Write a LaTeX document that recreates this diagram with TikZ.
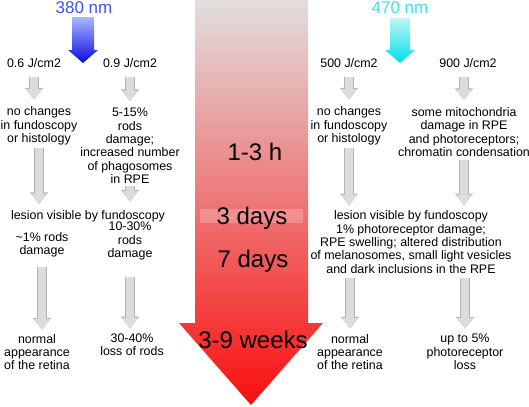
\documentclass[tikz,border=0pt]{standalone}
\usepackage{fontspec}
\setmainfont{Liberation Sans}
\usetikzlibrary{arrows.meta, calc}

\definecolor{tgrey}{RGB}{226,222,222}
\definecolor{tpink}{RGB}{240,128,128}
\definecolor{tred}{RGB}{250,15,15}
\definecolor{uvtext}{RGB}{64,80,255}
\definecolor{uvlight}{RGB}{170,184,255}
\definecolor{uvdark}{RGB}{10,10,225}
\definecolor{bltext}{RGB}{64,224,240}
\definecolor{bllight}{RGB}{190,245,245}
\definecolor{bldark}{RGB}{0,225,232}
\definecolor{stepfill}{RGB}{220,220,220}
\definecolor{stepedge}{RGB}{180,180,180}

\tikzset{
  lbl/.style={
    align=center, font=\fontsize{10.6}{11.4}\selectfont, inner sep=1pt,
  },
  period/.style={
    font=\fontsize{20.5}{24}\selectfont, inner sep=1pt,
  },
  nm/.style={
    font=\fontsize{14.5}{17}\selectfont, inner sep=0pt,
  },
  greyarr/.style={
    draw=stepfill, line width=7pt, -{Triangle[length=9pt, width=13pt]},
    preaction={draw=stepedge, line width=8.2pt,
               -{Triangle[length=10pt, width=15pt]}},
  }
}

\begin{document}
\begin{tikzpicture}[x=0.03cm, y=-0.03cm]
  \useasboundingbox (0,0) rectangle (529,406);

  % time axis
  \shade[top color=tgrey, middle color=tpink, bottom color=tred]
    (195,0) -- (308,0) -- (308,323) -- (323,323) -- (251,405)
    -- (179,323) -- (195,323) -- cycle;
  \fill[white, opacity=0.22] (200,209) rectangle (303,223);

  \node[period] (h13) at (255,152) {1-3 h};
  \node[period] (d3)  at (252,218) {3 days};
  \node[period] (d7)  at (253,261) {7 days};
  \node[period] (w39) at (253,340) {3-9 weeks};

  % wavelengths
  \node[nm, text=uvtext, anchor=base] (uv) at (84,13.5) {380 nm};
  \shade[top color=uvlight, bottom color=uvdark]
    (72,17) -- (94,17) -- (94,50) -- (98,50) -- (83,63) -- (68,50)
    -- (72,50) -- cycle;
  \node[nm, text=bltext, anchor=base] (bl) at (400,13.5) {470 nm};
  \shade[top color=bllight, bottom color=bldark]
    (390,18) -- (410,18) -- (410,50) -- (415,50) -- (400,63) -- (385,50)
    -- (390,50) -- cycle;

  % 380 nm
  \node[lbl] (e06)   at (34,63)   {0.6 J/cm2};
  \node[lbl] (e09)   at (130,63)  {0.9 J/cm2};
  \node[lbl] (nc1)   at (39,126)  {no changes\\in fundoscopy\\or histology};
  \node[lbl] (rods1) at (130,146) {5-15\%\\rods\\damage;\\increased number\\of phagosomes\\in RPE};
  \node[lbl] (les1)  at (88,216)  {lesion visible by fundoscopy};
  \node[lbl] (r1)    at (42,245)  {\textasciitilde1\% rods\\damage};
  \node[lbl] (r2)    at (130,241) {10-30\%\\rods\\damage};
  \node[lbl] (norm1) at (37,352)  {normal\\appearance\\of the retina};
  \node[lbl] (loss1) at (132,345) {30-40\%\\loss of rods};

  \draw[greyarr, shorten <=7pt, shorten >=5pt] (e06.south) -- (e06.south |- nc1.north);
  \draw[greyarr, shorten <=7pt, shorten >=5pt] (e09.south) -- (e09.south |- rods1.north);
  \draw[greyarr, shorten <=1pt, shorten >=4pt] (nc1.south) -- (nc1.south |- les1.north);
  \draw[greyarr, shorten <=1pt, shorten >=6pt] (rods1.south) -- (rods1.south |- les1.north);
  \draw[greyarr, shorten <=7pt, shorten >=2.5pt] (r1.south) -- (r1.south |- norm1.north);
  \draw[greyarr, shorten <=13pt, shorten >=3.5pt] (r2.south) -- (r2.south |- loss1.north);

  % 470 nm
  \node[lbl] (e500)  at (349,63)  {500 J/cm2};
  \node[lbl] (e900)  at (468,63)  {900 J/cm2};
  \node[lbl] (nc2)   at (349,126) {no changes\\in fundoscopy\\or histology};
  \node[lbl] (mito)  at (464,132) {some mitochondria\\damage in RPE\\and photoreceptors;\\chromatin condensation};
  \node[lbl] (les2)  at (411,242) {lesion visible by fundoscopy\\1\% photoreceptor damage;\\RPE swelling; altered distribution\\of melanosomes, small light vesicles\\and dark inclusions in the RPE};
  \node[lbl] (norm2) at (350,352) {normal\\appearance\\of the retina};
  \node[lbl] (up5)   at (465,352) {up to 5\%\\photoreceptor\\loss};

  \draw[greyarr, shorten <=7pt, shorten >=5pt] (e500.south) -- (e500.south |- nc2.north);
  \draw[greyarr, shorten <=7pt, shorten >=5pt] (e900.south -| mito.north) -- (mito.north);
  \draw[greyarr, shorten <=1pt, shorten >=3.5pt] (nc2.south) -- (nc2.south |- les2.north);
  \draw[greyarr, shorten <=1.5pt, shorten >=3.5pt] (mito.south) -- (mito.south |- les2.north);
  \draw[greyarr, shorten <=3pt, shorten >=3.5pt] (les2.south -| norm2.north) -- (norm2.north);
  \draw[greyarr, shorten <=3pt, shorten >=3.5pt] (les2.south -| up5.north) -- (up5.north);

\end{tikzpicture}
\end{document}
